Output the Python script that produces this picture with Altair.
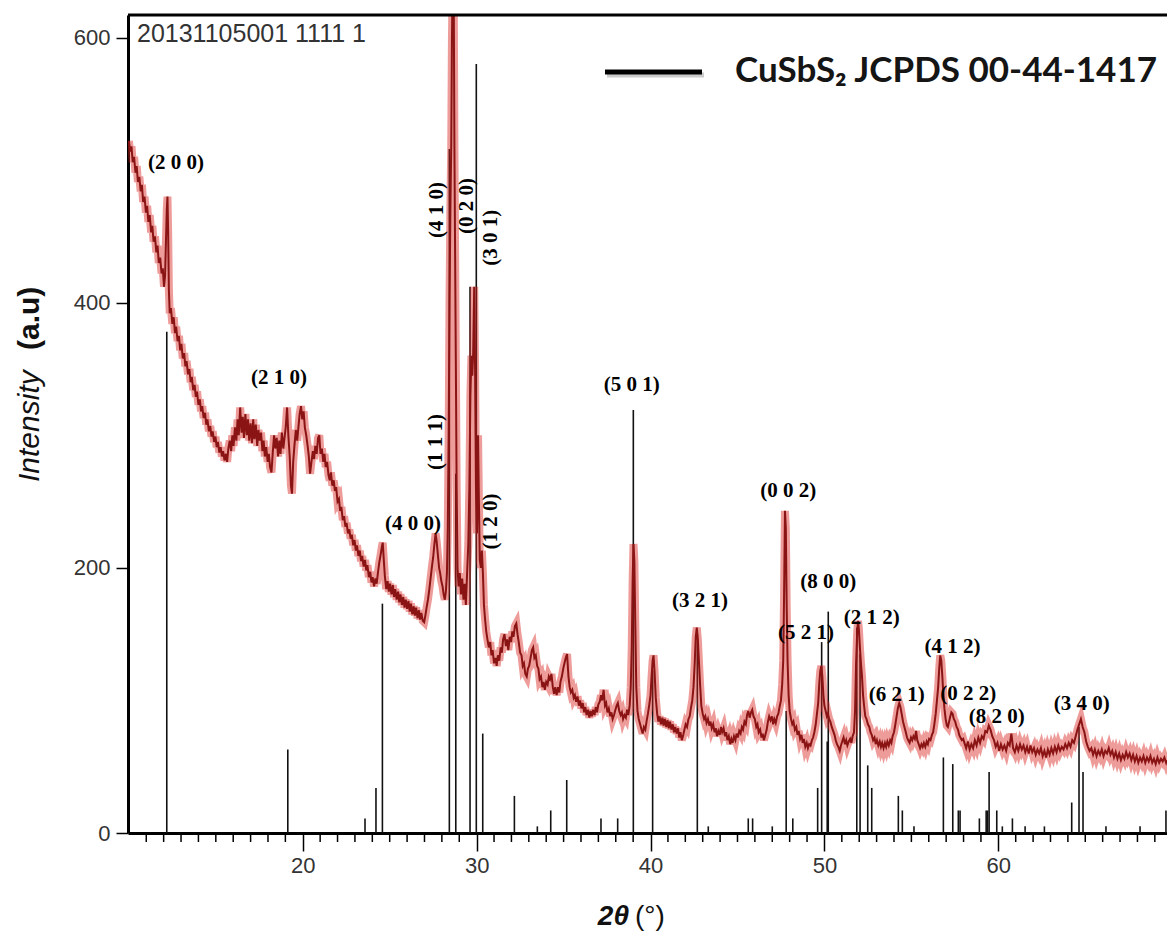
import altair as alt
import pandas as pd

# ---------------- data ----------------
scan_points = [
    (10.0,522),(10.08,514),(10.15,518),(10.22,506),(10.3,510),(10.38,498),(10.45,503),(10.52,491),(10.6,495),(10.68,484),
    (10.75,489),(10.82,476),(10.9,480),(10.98,468),(11.05,473),(11.12,461),(11.2,466),(11.28,453),(11.35,458),(11.42,446),
    (11.5,450),(11.58,438),(11.65,443),(11.72,430),(11.8,434),(11.88,422),(11.95,426),(12.02,412),(12.08,420),(12.13,445),
    (12.18,470),(12.22,480),(12.26,452),(12.3,410),(12.35,392),(12.42,396),(12.5,384),(12.58,389),(12.65,377),(12.72,382),
    (12.8,371),(12.88,375),(12.95,364),(13.02,369),(13.1,358),(13.18,362),(13.25,352),(13.32,356),(13.4,346),(13.48,350),
    (13.55,340),(13.62,344),(13.7,334),(13.78,338),(13.85,329),(13.92,333),(14.0,323),(14.08,327),(14.15,318),(14.22,322),
    (14.3,313),(14.38,317),(14.45,308),(14.52,312),(14.6,303),(14.68,307),(14.75,299),(14.82,303),(14.9,295),(14.98,299),
    (15.05,291),(15.12,295),(15.2,287),(15.28,291),(15.35,284),(15.42,288),(15.5,281),(15.58,286),(15.65,280),(15.72,290),
    (15.8,296),(15.88,288),(15.95,300),(16.02,292),(16.1,306),(16.18,296),(16.25,312),(16.32,300),(16.4,321),(16.48,302),
    (16.55,314),(16.62,298),(16.7,316),(16.78,300),(16.85,312),(16.92,296),(17.0,309),(17.08,294),(17.15,312),(17.22,297),
    (17.3,308),(17.38,292),(17.45,304),(17.52,296),(17.6,302),(17.68,288),(17.75,296),(17.82,284),(17.9,291),(17.98,280),
    (18.05,286),(18.12,276),(18.2,272),(18.28,288),(18.35,300),(18.42,290),(18.5,298),(18.58,284),(18.65,296),(18.72,286),
    (18.8,302),(18.88,290),(18.95,298),(19.02,306),(19.1,321),(19.17,300),(19.25,284),(19.32,262),(19.38,256),(19.45,280),
    (19.52,292),(19.6,304),(19.68,296),(19.75,306),(19.82,316),(19.9,322),(19.97,312),(20.05,318),(20.12,306),(20.2,300),
    (20.28,292),(20.35,284),(20.42,271),(20.5,280),(20.58,288),(20.65,282),(20.72,292),(20.8,286),(20.88,298),(20.95,300),
    (21.02,286),(21.1,290),(21.18,280),(21.25,286),(21.32,276),(21.4,280),(21.48,270),(21.55,266),(21.62,272),(21.7,262),
    (21.78,266),(21.85,258),(21.92,261),(22.0,250),(22.08,252),(22.15,243),(22.22,246),(22.3,236),(22.38,239),(22.45,231),
    (22.52,234),(22.6,226),(22.68,229),(22.75,222),(22.82,225),(22.9,217),(22.98,221),(23.05,213),(23.12,217),(23.2,209),
    (23.28,213),(23.35,205),(23.42,209),(23.5,201),(23.58,206),(23.65,198),(23.72,202),(23.8,193),(23.88,197),(23.95,189),
    (24.02,193),(24.1,186),(24.18,192),(24.25,188),(24.32,196),(24.4,204),(24.48,210),(24.55,216),(24.6,219),(24.66,206),
    (24.72,194),(24.8,184),(24.88,190),(24.95,182),(25.02,188),(25.1,180),(25.18,187),(25.25,178),(25.32,184),(25.4,176),
    (25.48,182),(25.55,174),(25.62,180),(25.7,172),(25.78,178),(25.85,170),(25.92,176),(26.0,169),(26.08,175),(26.15,167),
    (26.22,173),(26.3,165),(26.38,171),(26.45,164),(26.52,170),(26.6,162),(26.68,168),(26.75,161),(26.82,166),(26.9,160),
    (26.98,159),(27.05,164),(27.12,170),(27.2,176),(27.28,184),(27.35,192),(27.42,200),(27.5,208),(27.57,218),(27.64,226),
    (27.7,220),(27.77,210),(27.84,200),(27.9,196),(27.97,190),(28.04,186),(28.1,180),(28.17,176),(28.23,182),(28.29,196),
    (28.34,230),(28.39,300),(28.44,400),(28.49,470),(28.54,520),(28.58,600),(28.63,650),(28.68,640),(28.72,520),(28.76,440),
    (28.8,360),(28.85,260),(28.9,200),(28.96,186),(29.03,196),(29.1,180),(29.17,192),(29.24,176),(29.31,188),(29.38,172),
    (29.45,196),(29.52,218),(29.58,260),(29.64,330),(29.7,360),(29.75,345),(29.8,362),(29.86,412),(29.91,350),(29.96,260),
    (30.02,226),(30.08,300),(30.13,250),(30.18,206),(30.24,200),(30.3,213),(30.36,196),(30.42,172),(30.48,162),(30.55,152),
    (30.62,146),(30.7,140),(30.78,144),(30.85,134),(30.92,138),(31.0,128),(31.08,132),(31.15,126),(31.22,134),(31.3,130),
    (31.38,140),(31.45,136),(31.52,146),(31.6,150),(31.68,141),(31.75,146),(31.82,138),(31.9,148),(31.98,144),(32.05,152),
    (32.12,148),(32.2,156),(32.28,158),(32.35,150),(32.42,144),(32.5,136),(32.58,134),(32.65,126),(32.72,128),(32.8,120),
    (32.88,118),(32.95,124),(33.02,126),(33.1,132),(33.18,138),(33.25,140),(33.32,132),(33.4,134),(33.48,126),(33.55,124),
    (33.62,116),(33.7,118),(33.78,110),(33.85,114),(33.92,108),(34.0,114),(34.08,112),(34.15,118),(34.22,116),(34.3,120),
    (34.38,110),(34.45,105),(34.52,110),(34.6,104),(34.68,110),(34.75,106),(34.82,114),(34.9,118),(34.98,124),(35.05,128),
    (35.12,132),(35.2,135),(35.28,118),(35.35,110),(35.42,106),(35.5,108),(35.58,102),(35.65,104),(35.72,99),(35.8,103),
    (35.88,96),(35.95,100),(36.02,94),(36.1,98),(36.18,91),(36.25,95),(36.32,89),(36.4,93),(36.48,87),(36.55,92),
    (36.62,88),(36.7,93),(36.78,89),(36.85,95),(36.92,91),(37.0,97),(37.08,99),(37.15,104),(37.22,100),(37.3,108),
    (37.38,96),(37.45,98),(37.52,91),(37.6,94),(37.68,88),(37.75,91),(37.82,86),(37.9,89),(37.98,93),(38.05,96),
    (38.12,98),(38.2,92),(38.28,89),(38.35,91),(38.42,86),(38.5,89),(38.58,87),(38.65,93),(38.72,89),(38.8,96),
    (38.86,110),(38.92,140),(38.97,190),(39.02,218),(39.07,205),(39.12,160),(39.18,110),(39.25,92),(39.32,86),(39.4,82),
    (39.48,78),(39.55,75),(39.62,80),(39.7,78),(39.78,85),(39.85,90),(39.92,96),(40.0,104),(40.06,118),(40.12,130),
    (40.17,134),(40.23,122),(40.3,102),(40.38,90),(40.45,84),(40.52,88),(40.6,82),(40.68,87),(40.75,81),(40.82,86),
    (40.9,80),(40.98,85),(41.05,79),(41.12,84),(41.2,78),(41.28,82),(41.35,76),(41.42,80),(41.5,75),(41.58,79),
    (41.65,72),(41.72,76),(41.8,70),(41.88,74),(41.95,78),(42.02,82),(42.1,80),(42.18,86),(42.25,88),(42.32,94),
    (42.4,100),(42.47,110),(42.54,128),(42.6,148),(42.66,155),(42.72,146),(42.78,130),(42.85,112),(42.92,96),(43.0,90),
    (43.08,86),(43.15,88),(43.22,83),(43.3,86),(43.38,81),(43.45,84),(43.52,79),(43.6,82),(43.68,76),(43.75,79),
    (43.82,73),(43.9,77),(43.98,74),(44.05,80),(44.12,76),(44.2,79),(44.28,73),(44.35,76),(44.42,70),(44.5,73),
    (44.58,67),(44.65,71),(44.72,68),(44.8,73),(44.88,70),(44.95,75),(45.02,72),(45.1,77),(45.18,75),(45.25,80),
    (45.32,78),(45.4,84),(45.48,82),(45.55,89),(45.62,92),(45.7,87),(45.78,91),(45.85,93),(45.92,88),(46.0,86),
    (46.08,80),(46.15,82),(46.22,76),(46.3,78),(46.38,72),(46.45,75),(46.52,70),(46.6,74),(46.68,78),(46.75,84),
    (46.82,88),(46.9,85),(46.98,88),(47.05,82),(47.12,86),(47.2,83),(47.28,88),(47.35,90),(47.42,95),(47.5,100),
    (47.57,112),(47.63,130),(47.68,180),(47.73,243),(47.78,230),(47.83,170),(47.88,130),(47.94,104),(48.0,92),(48.08,86),
    (48.15,82),(48.22,84),(48.3,78),(48.38,80),(48.45,74),(48.52,77),(48.6,71),(48.68,74),(48.75,68),(48.82,71),
    (48.9,65),(48.98,68),(49.05,64),(49.12,67),(49.2,66),(49.28,70),(49.35,72),(49.42,76),(49.5,82),(49.57,90),
    (49.64,98),(49.7,112),(49.76,122),(49.82,126),(49.88,118),(49.94,104),(50.0,96),(50.07,92),(50.14,88),(50.2,90),
    (50.27,86),(50.34,84),(50.42,80),(50.5,77),(50.58,74),(50.65,70),(50.72,67),(50.8,65),(50.88,62),(50.95,66),
    (51.02,69),(51.1,72),(51.18,67),(51.25,70),(51.32,66),(51.4,69),(51.48,71),(51.55,68),(51.62,73),(51.7,76),
    (51.76,92),(51.82,128),(51.88,150),(51.93,160),(51.98,154),(52.04,140),(52.1,128),(52.16,118),(52.22,104),(52.28,96),
    (52.35,88),(52.42,86),(52.5,82),(52.58,80),(52.65,76),(52.72,74),(52.8,70),(52.88,72),(52.95,67),(53.02,70),
    (53.1,66),(53.18,69),(53.25,65),(53.32,68),(53.4,64),(53.48,68),(53.55,65),(53.62,69),(53.7,66),(53.78,70),
    (53.85,68),(53.92,73),(54.0,76),(54.08,82),(54.15,88),(54.22,94),(54.3,98),(54.37,95),(54.44,90),(54.52,84),
    (54.6,80),(54.68,76),(54.75,72),(54.82,70),(54.9,68),(54.98,72),(55.05,70),(55.12,73),(55.2,71),(55.27,77),
    (55.34,70),(55.42,67),(55.5,64),(55.58,67),(55.65,65),(55.72,68),(55.8,65),(55.88,69),(55.95,67),(56.02,71),
    (56.1,70),(56.18,74),(56.25,76),(56.32,82),(56.4,90),(56.47,100),(56.54,110),(56.6,124),(56.66,134),(56.72,130),
    (56.78,118),(56.84,104),(56.9,94),(56.97,86),(57.04,81),(57.1,80),(57.17,84),(57.24,88),(57.3,91),(57.37,90),
    (57.44,86),(57.52,84),(57.6,80),(57.68,78),(57.75,74),(57.82,72),(57.9,70),(57.98,71),(58.05,68),(58.15,64),
    (58.25,69),(58.35,63),(58.45,67),(58.55,64),(58.65,70),(58.75,66),(58.85,72),(58.95,68),(59.05,73),(59.15,71),
    (59.25,77),(59.35,76),(59.45,81),(59.55,78),(59.65,73),(59.75,70),(59.85,65),(59.95,68),(60.05,62),(60.15,67),
    (60.25,63),(60.35,66),(60.45,62),(60.55,68),(60.65,66),(60.75,75),(60.85,64),(60.95,61),(61.05,66),(61.15,62),
    (61.25,67),(61.35,63),(61.45,66),(61.55,61),(61.65,65),(61.75,60),(61.85,66),(61.95,61),(62.05,64),(62.15,59),
    (62.25,63),(62.35,60),(62.45,64),(62.55,58),(62.65,62),(62.75,57),(62.85,63),(62.95,59),(63.05,64),(63.15,60),
    (63.25,65),(63.35,61),(63.45,66),(63.55,62),(63.65,65),(63.75,63),(63.85,67),(63.95,64),(64.05,68),(64.15,65),
    (64.25,70),(64.35,68),(64.45,73),(64.55,78),(64.65,82),(64.75,86),(64.85,80),(64.95,76),(65.05,69),(65.15,65),
    (65.25,62),(65.35,64),(65.45,59),(65.55,63),(65.65,58),(65.75,62),(65.85,59),(65.95,63),(66.05,58),(66.15,62),
    (66.25,60),(66.35,64),(66.45,59),(66.55,62),(66.65,57),(66.75,61),(66.85,56),(66.95,60),(67.05,55),(67.15,59),
    (67.25,56),(67.35,61),(67.45,57),(67.55,60),(67.65,55),(67.75,59),(67.85,54),(67.95,58),(68.05,53),(68.15,57),
    (68.25,54),(68.35,58),(68.45,53),(68.55,57),(68.65,54),(68.75,58),(68.85,53),(68.95,56),(69.05,52),(69.15,57),
    (69.25,53),(69.35,56),(69.45,54),(69.55,57),(69.65,53),(69.7,55),
]

stick_2theta = [12.18, 19.14, 23.58, 24.21, 24.58, 28.43, 28.8, 29.62, 29.98, 30.35, 32.17, 33.49, 34.26, 35.18,
                37.15, 38.11, 39.01, 40.12, 42.69, 43.32, 45.62, 45.87, 47.0, 47.8, 48.18, 49.61, 49.84, 50.16,
                50.22, 51.86, 52.05, 52.49, 52.72, 54.25, 54.48, 55.15, 56.84, 57.38, 57.7, 57.8, 58.91, 59.3,
                59.38, 59.47, 59.91, 60.23, 60.81, 61.54, 62.65, 64.22, 64.64, 64.87, 66.19, 68.15, 69.64]
stick_intensity = [378, 63, 11, 34, 173, 516, 271, 412, 580, 75, 28, 5, 17, 40,
                   11, 11, 319, 123, 150, 5, 11, 11, 5, 92, 11, 34, 144, 69,
                   167, 155, 135, 51, 34, 28, 17, 5, 57, 52, 17, 17, 11, 17,
                   17, 46, 17, 5, 11, 5, 5, 23, 80, 46, 5, 5, 17]

hkl_flat = ["(2 0 0)", "(2 1 0)", "(4 0 0)", "(5 0 1)", "(0 0 2)", "(8 0 0)", "(3 2 1)",
            "(5 2 1)", "(2 1 2)", "(4 1 2)", "(6 2 1)", "(0 2 2)", "(8 2 0)", "(3 4 0)"]
hkl_flat_x = [12.71, 18.64, 26.34, 38.92, 47.92, 50.22, 42.85, 48.94, 52.72, 57.37, 54.16, 58.27, 59.91, 64.80]
hkl_flat_y = [505, 343, 233, 338, 258, 189, 175, 151, 162, 140, 104, 105, 87.5, 97.6]

hkl_vert = ["(4 1 0)", "(0 2 0)", "(3 0 1)", "(1 1 1)", "(1 2 0)"]
hkl_vert_x = [27.71, 29.43, 30.83, 27.67, 30.83]
hkl_vert_y = [470, 473, 449, 295, 235]

x_major = [20, 30, 40, 50, 60]
x_minor = [v for v in range(10, 70) if v % 10 != 0]
y_ticks = [0, 200, 400, 600]

sample_id = "20131105001 1111 1"
legend_label = "CuSbS\u2082 JCPDS 00-44-1417"

# ---------------- chart ----------------
W, H = 1039, 818
xs = alt.Scale(domain=[9.95, 69.7], nice=False, zero=False)
ys = alt.Scale(domain=[0, 617], nice=False)

TICK_FONT = "Liberation Sans Narrow, Liberation Sans, Arial, sans-serif"

x_axis = alt.Axis(
    values=x_major, tickSize=18, tickColor="#000", tickWidth=1.5,
    domainColor="#000", domainWidth=3,
    labelFont=TICK_FONT, labelFontSize=22, labelColor="#333", labelPadding=4,
    title=None, grid=False, labelFlush=False,
)
y_axis = alt.Axis(
    values=y_ticks, tickSize=12, tickColor="#000", tickWidth=1.5,
    domainColor="#000", domainWidth=3, labelFont=TICK_FONT, labelFontSize=22,
    labelColor="#333", labelPadding=6, title=None, grid=False,
)

scan_df = pd.DataFrame(scan_points, columns=["t", "i"])
stick_df = pd.DataFrame({"t": stick_2theta, "i": stick_intensity, "z": [0] * len(stick_2theta)})
minor_df = pd.DataFrame({"t": x_minor})
flat_df = pd.DataFrame({"t": hkl_flat_x, "i": hkl_flat_y, "lab": hkl_flat})
vert_df = pd.DataFrame({"t": hkl_vert_x, "i": hkl_vert_y, "lab": hkl_vert})
one = pd.DataFrame({"a": [0]})

sticks = alt.Chart(stick_df).mark_rule(color="#111", strokeWidth=1.6).encode(
    x=alt.X("t:Q", scale=xs, axis=x_axis),
    y=alt.Y("z:Q", scale=ys, axis=y_axis),
    y2="i:Q",
)
minor_ticks = alt.Chart(minor_df).mark_rule(color="#000", strokeWidth=1.5).encode(
    x=alt.X("t:Q", scale=xs), y=alt.value(H), y2=alt.value(H + 9))

halo = alt.Chart(scan_df).mark_line(color="#d9231f", strokeWidth=8, opacity=0.45, clip=True,
                                    strokeJoin="miter").encode(
    x=alt.X("t:Q", scale=xs), y=alt.Y("i:Q", scale=ys))
core = alt.Chart(scan_df).mark_line(color="#8a1414", strokeWidth=2, clip=True).encode(
    x=alt.X("t:Q", scale=xs), y=alt.Y("i:Q", scale=ys))

flat_txt = alt.Chart(flat_df).mark_text(font="Liberation Serif", fontWeight="bold", fontSize=21,
                                        color="#000", align="center", baseline="middle").encode(
    x=alt.X("t:Q", scale=xs), y=alt.Y("i:Q", scale=ys), text="lab:N")
vert_txt = alt.Chart(vert_df).mark_text(font="Liberation Serif", fontWeight="bold", fontSize=21,
                                        color="#000", align="center", baseline="middle", angle=270).encode(
    x=alt.X("t:Q", scale=xs), y=alt.Y("i:Q", scale=ys), text="lab:N")

top_border = alt.Chart(one).mark_rule(color="#000", strokeWidth=3).encode(
    x=alt.value(0), x2=alt.value(W), y=alt.value(0))

legend_shadow = alt.Chart(one).mark_rule(color="#999", strokeWidth=5, opacity=0.5).encode(
    x=alt.value(607 - 128), x2=alt.value(704 - 128), y=alt.value(75 - 15))
legend_line = alt.Chart(one).mark_rule(color="#000", strokeWidth=5).encode(
    x=alt.value(605 - 128), x2=alt.value(702 - 128), y=alt.value(72 - 15))
legend_text = alt.Chart(one).mark_text(font="Lato", fontSize=35, fontWeight="bold", color="#151515",
                                       align="left", baseline="alphabetic").encode(
    x=alt.value(735 - 128), y=alt.value(82 - 15), text=alt.value(legend_label))

sample_text = alt.Chart(one).mark_text(font="Liberation Sans", fontSize=25, color="#333", align="left",
                                       baseline="alphabetic").encode(
    x=alt.value(9), y=alt.value(27), text=alt.value(sample_id))

xt1 = alt.Chart(one).mark_text(font="Liberation Sans", fontSize=28, fontWeight="bold", fontStyle="italic",
                               color="#111", align="right", baseline="alphabetic").encode(
    x=alt.value(629 - 128), y=alt.value(925 - 15), text=alt.value("2\u03b8"))
xt2 = alt.Chart(one).mark_text(font="Liberation Sans", fontSize=28, color="#111", align="left",
                               baseline="alphabetic").encode(
    x=alt.value(635 - 128), y=alt.value(925 - 15), text=alt.value("(\u00b0)"))

yt1 = alt.Chart(one).mark_text(font="Liberation Sans", fontSize=30, fontStyle="italic", color="#111",
                               align="left", baseline="middle", angle=270).encode(
    x=alt.value(30 - 128), y=alt.value(482 - 15), text=alt.value("Intensity"))
yt2 = alt.Chart(one).mark_text(font="Liberation Sans", fontSize=30, color="#111", fontWeight="bold",
                               align="left", baseline="middle", angle=270).encode(
    x=alt.value(30 - 128), y=alt.value(350 - 15), text=alt.value("(a.u)"))

chart = alt.layer(
    sticks, minor_ticks, halo, core, flat_txt, vert_txt, top_border, legend_shadow, legend_line,
    legend_text, sample_text, xt1, xt2, yt1, yt2,
).properties(
    width=W, height=H,
    padding={"left": 128, "top": 15, "right": 0, "bottom": 107},
    autosize=alt.AutoSizeParams(type="none"),
    background="white",
).configure_view(stroke=None)

chart.save("out.html", embed_options={"renderer": "svg", "actions": False})
